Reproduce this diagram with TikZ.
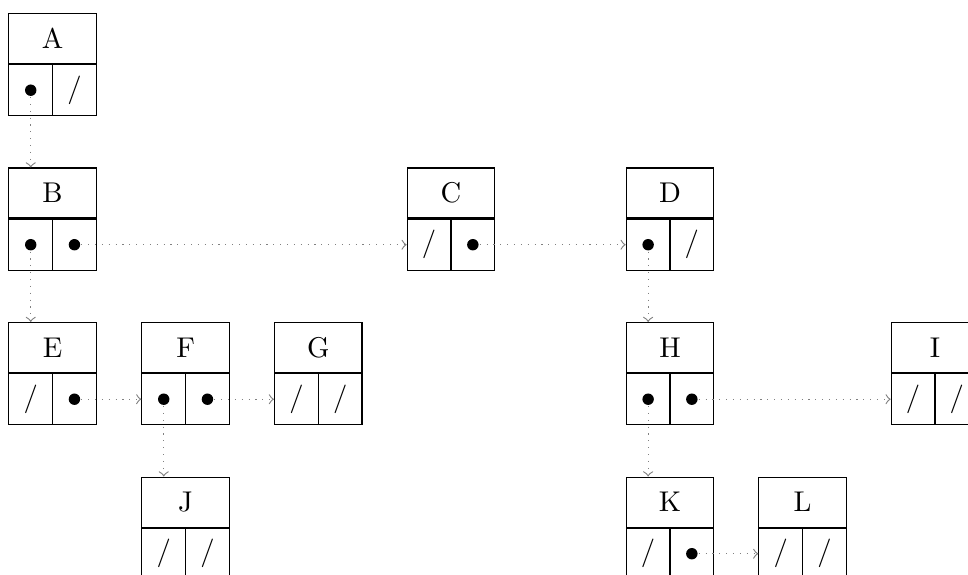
\documentclass[tikz,border=0pt]{standalone}
\begin{document}
\begin{tikzpicture}[x=0.35pt,y=-0.35pt,
  topbox/.style={draw, line width=0.4pt, minimum width=30.6pt, minimum height=17.5pt, inner sep=0pt, anchor=north west},
  cellbox/.style={draw, line width=0.4pt, minimum width=15.3pt, minimum height=17.85pt, inner sep=0pt},
  link/.style={draw=gray, dotted, ->},
  ptrdot/.style={fill=black}]
\useasboundingbox (0,0) rectangle (968,575);
\newcommand\lnode[6]{%
  \node[topbox] (#1) at (#2,#3) {#4};
  \node[cellbox, anchor=north west] (#1-l) at (#1.south west) {#5};
  \node[cellbox, anchor=north east] (#1-r) at (#1.south east) {#6};
}
\newcommand\dotat[1]{\fill[ptrdot] (#1.center) circle (2pt);}
\lnode{A}{8.3}{13}{A}{}{/}
\lnode{B}{8.3}{167.5}{B}{}{}
\lnode{C}{406.7}{167.5}{C}{/}{}
\lnode{D}{625.7}{167.5}{D}{}{/}
\lnode{E}{8.3}{322}{E}{/}{}
\lnode{F}{141.3}{322}{F}{}{}
\lnode{G}{274}{322}{G}{/}{/}
\lnode{H}{625.7}{322}{H}{}{}
\lnode{I}{890.7}{322}{I}{/}{/}
\lnode{J}{141.3}{476.5}{J}{/}{/}
\lnode{K}{625.7}{476.5}{K}{/}{}
\lnode{L}{758.3}{476.5}{L}{/}{/}
% connectors
\draw[link] (A-l.center) -- (A-l.center |- B.north);
\draw[link] (B-l.center) -- (B-l.center |- E.north);
\draw[link] (B-r.center) -- (C-l.west);
\draw[link] (C-r.center) -- (D-l.west);
\draw[link] (D-l.center) -- (D-l.center |- H.north);
\draw[link] (E-r.center) -- (F-l.west);
\draw[link] (F-r.center) -- (G-l.west);
\draw[link] (F-l.center) -- (F-l.center |- J.north);
\draw[link] (H-r.center) -- (I-l.west);
\draw[link] (H-l.center) -- (H-l.center |- K.north);
\draw[link] (K-r.center) -- (L-l.west);
% dots
\dotat{A-l}
\dotat{B-l}\dotat{B-r}
\dotat{C-r}
\dotat{D-l}
\dotat{E-r}
\dotat{F-l}\dotat{F-r}
\dotat{H-l}\dotat{H-r}
\dotat{K-r}
\end{tikzpicture}
\end{document}
